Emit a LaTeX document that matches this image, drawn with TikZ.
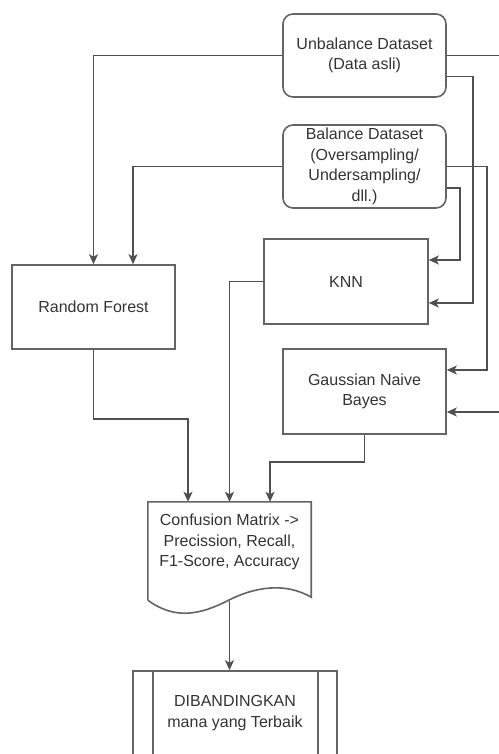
\documentclass[tikz,border=0pt]{standalone}
\usepackage{fontspec}
\setmainfont{Liberation Sans}
\usetikzlibrary{arrows.meta}
\definecolor{ln}{RGB}{80,80,80}
\definecolor{bx}{RGB}{100,100,100}
\definecolor{tx}{RGB}{51,51,51}
\begin{document}
\begin{tikzpicture}[x=1pt,y=-1pt,
  box/.style={draw=bx, line width=1.6pt, text=tx, align=center, font=\fontsize{16}{20.5}\selectfont, inner sep=0pt},
  rbox/.style={box, rounded corners=10pt},
  txt/.style={text=tx, align=center, font=\fontsize{16}{20.5}\selectfont, inner sep=0pt},
  arr/.style={draw=ln, line width=1.5pt, -{Stealth[length=10pt,width=9pt,inset=2.5pt]}},
  shp/.style={draw=bx, line width=1.6pt}]
\useasboundingbox (0,0) rectangle (498,754);
\node[rbox, minimum width=163pt, minimum height=83pt] (U) at (364.5,55.5) {Unbalance Dataset\\(Data asli)};
\node[rbox, minimum width=163pt, minimum height=83pt] (B) at (364.5,166.5) {Balance Dataset\\(Oversampling/\\Undersampling/\\dll.)};
\node[box, minimum width=163pt, minimum height=84pt] (RF) at (93.5,307) {Random Forest};
\node[box, minimum width=164pt, minimum height=85pt] (KNN) at (346,281.5) {KNN};
\node[box, minimum width=163pt, minimum height=85pt] (GNB) at (364.5,391.5) {Gaussian Naive\\Bayes};
\node[minimum width=163pt, minimum height=98pt, inner sep=0pt] (CM) at (229.5,551) {};
\node[txt] (CMt) at (229.5,542) {Confusion Matrix ->\\Precission, Recall,\\F1-Score, Accuracy};
\node[box, minimum width=204pt, minimum height=84pt] (D) at (235,713) {DIBANDINGKAN\\mana yang Terbaik};
% document shape
\draw[shp] (CM.south west) -- (CM.north west) -- (CM.north east) -- ([yshift=3pt]CM.south east)
  .. controls (285,582) and (255,587) .. (229,600)
  .. controls (200,615) and (175,620) .. (CM.south west);
% predefined-process inner lines
\draw[shp] ([xshift=21pt]D.north west) -- ([xshift=21pt]D.south west);
\draw[shp] ([xshift=-20pt]D.north east) -- ([xshift=-20pt]D.south east);
% connectors
\draw[arr] (U.west) -| (RF.north);
\draw[arr] (B.west) -| ([xshift=39.5pt]RF.north);
\draw[arr] (U.east) -| (505,412) -- ([yshift=-20.5pt]GNB.east);
\draw[arr] ([yshift=-21pt]U.east) -| (473,303) -- ([yshift=-21.5pt]KNN.east);
\draw[arr] (B.east) -| (487,370) -- ([yshift=21.5pt]GNB.east);
\draw[arr] ([yshift=-21.5pt]B.east) -| (460,260) -- ([yshift=21.5pt]KNN.east);
\draw[arr] (KNN.west) -| (CM.north);
\draw[arr] (RF.south) -- (93.5,419) -| ([xshift=-41.5pt]CM.north);
\draw[arr] (GNB.south) -- (364.5,462) -| ([xshift=40.5pt]CM.north);
\coordinate (cmb) at (229.5,601);
\draw[arr] (cmb) -- (cmb |- D.north);
\end{tikzpicture}
\end{document}
